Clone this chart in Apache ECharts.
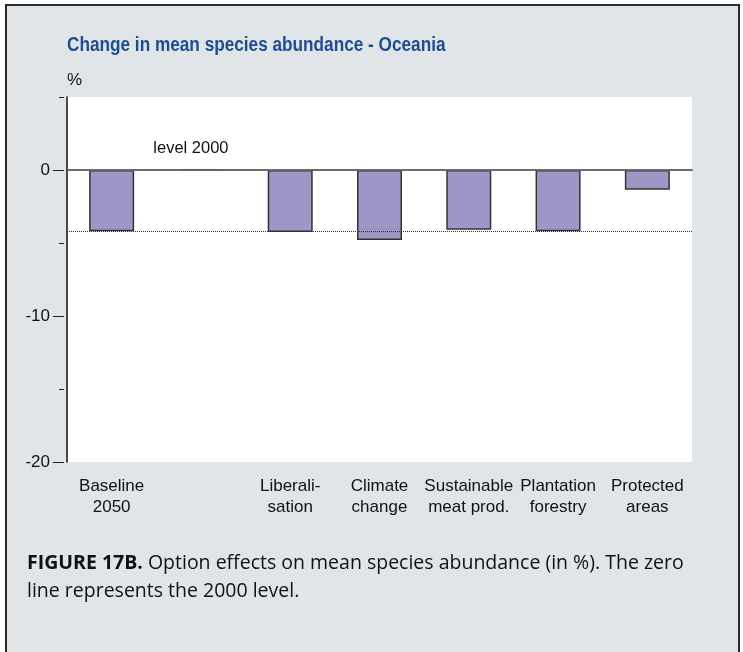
<!DOCTYPE html>
<html><head><meta charset="utf-8">
<script src="https://cdn.jsdelivr.net/npm/echarts@6/dist/echarts.min.js"></script>
<style>html,body{margin:0;padding:0;background:#fff}#c{width:743px;height:652px}</style>
</head><body><div id="c"></div>
<script>
// ---- data ----
const categories = ['Baseline\n2050', 'level 2000', 'Liberali-\nsation', 'Climate\nchange', 'Sustainable\nmeat prod.', 'Plantation\nforestry', 'Protected\nareas'];
const values = [-4.2, 0, -4.25, -4.8, -4.1, -4.2, -1.35];
const referenceIndex = 1;           // "level 2000" column (no axis label)
const baselineIndex = 0;            // dotted reference line at Baseline 2050 value
const yMin = -20, yMax = 5;
const majorTickLabels = ['-20', '-10', '0'];
const title = 'Change in mean species abundance - Oceania';
const unit = '%';
const captionBold = 'FIGURE 17B.';
const captionLine1 = ' Option effects on mean species abundance (in %). The zero';
const captionLine2 = 'line represents the 2000 level.';

// ---- layout ----
const SANS = "'Liberation Sans',Arial,sans-serif";
const CAP = "'Open Sans','Noto Sans',sans-serif";
const G = {left: 67, right: 51, top: 97, bottom: 190};
const plotH = 652 - G.top - G.bottom;
const zeroTop = G.top + plotH * (yMax - 0) / (yMax - yMin);

const chart = echarts.init(document.getElementById('c'), null, {renderer: 'canvas'});
chart.setOption({
  animation: false,
  backgroundColor: '#ffffff',
  graphic: [
    {type: 'rect', z: -10, shape: {x: 6, y: 5, width: 733, height: 660},
     style: {fill: '#e2e5e7', stroke: '#2a2a2a', lineWidth: 2}},
    {type: 'text', x: 67, y: 35, scaleX: 0.86, z: 10,
     style: {text: title, font: "bold 20px " + SANS, fill: '#1d4e94'}},
    {type: 'text', left: 67, top: 72, z: 10,
     style: {text: unit, font: "17px " + SANS, fill: '#111'}},
    {type: 'text', left: 27, top: 553, z: 10,
     style: {text: '{b|' + captionBold + '}{r|' + captionLine1 + '}\n{r|' + captionLine2 + '}',
       rich: {
         b: {fontFamily: CAP, fontWeight: 'bold', fontSize: 19.5, fill: '#111', lineHeight: 28},
         r: {fontFamily: CAP, fontSize: 19.5, fill: '#111', lineHeight: 28}
       }}}
  ],
  grid: [
    {left: G.left, right: G.right, top: G.top, bottom: G.bottom, backgroundColor: '#ffffff', show: true, borderWidth: 0},
    {left: G.left, right: G.right, top: zeroTop, bottom: G.bottom, show: false}
  ],
  xAxis: [
    {type: 'category', gridIndex: 0, data: categories.map((c, i) => i === referenceIndex ? '' : c),
     axisLine: {lineStyle: {color: '#111', width: 1.5}}, axisTick: {show: false},
     axisLabel: {color: '#111', fontFamily: SANS, fontSize: 17, lineHeight: 21, margin: 14, interval: 0}},
    {type: 'category', gridIndex: 1, data: categories, show: false}
  ],
  yAxis: [
    {type: 'value', gridIndex: 0, min: yMin, max: yMax, interval: 5,
     axisLine: {show: true, lineStyle: {color: '#111', width: 1.5}}, axisTick: {show: false},
     axisLabel: {show: false}, splitLine: {show: false}},
    {type: 'value', gridIndex: 0, min: yMin, max: yMax, interval: 5, offset: 3, position: 'left',
     axisLine: {show: false}, axisTick: {show: true, length: 5, lineStyle: {color: '#222', width: 1}},
     axisLabel: {show: false}, splitLine: {show: false}},
    {type: 'value', gridIndex: 1, min: yMin, max: 0, interval: 10, offset: 3, position: 'left',
     axisLine: {show: false}, axisTick: {show: true, length: 11, lineStyle: {color: '#222', width: 1}},
     axisLabel: {color: '#111', fontFamily: SANS, fontSize: 17, margin: 14,
       formatter: v => majorTickLabels.includes(String(v)) ? String(v) : ''},
     splitLine: {show: false}}
  ],
  series: [{
    type: 'bar', xAxisIndex: 0, yAxisIndex: 0, barWidth: 45, barMinHeight: 1,
    data: values.map((v, i) => i === referenceIndex ? {
      value: v,
      itemStyle: {color: '#111', borderColor: '#111', borderWidth: 1},
      label: {show: true, position: 'top', distance: 12, offset: [-10, 0], formatter: categories[referenceIndex],
              color: '#111', fontFamily: SANS, fontSize: 16.5}
    } : v),
    itemStyle: {color: '#9d97c8', borderColor: '#333', borderWidth: 1.5},
    markLine: {
      silent: true, symbol: 'none', label: {show: false},
      data: [
        {yAxis: 0, lineStyle: {color: '#777', type: 'solid', width: 1.5}},
        {yAxis: values[baselineIndex], lineStyle: {color: '#333', type: [1, 1], width: 1}}
      ]
    }
  }]
});
</script></body></html>
